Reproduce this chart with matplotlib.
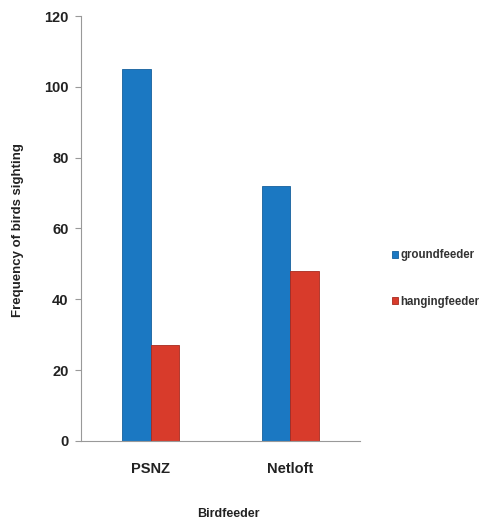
import matplotlib
matplotlib.use("Agg")
import matplotlib.pyplot as plt
import numpy as np

feeders = ["PSNZ", "Netloft"]
ground_feeder = [105, 72]
hanging_feeder = [27, 48]
series_labels = ["groundfeeder", "hangingfeeder"]
yticks = [0, 20, 40, 60, 80, 100, 120]

plt.rcParams["font.family"] = ["Liberation Sans", "DejaVu Sans"]

fig = plt.figure(figsize=(4.86, 5.23), dpi=100)
ax = fig.add_axes([0.1667, 0.1568, 0.5743, 0.8126])

x = np.arange(len(feeders))
width = 0.205
ax.bar(x - width / 2, ground_feeder, width, color="#1b78c2", edgecolor="#15609c",
       linewidth=0.6, label=series_labels[0])
ax.bar(x + width / 2, hanging_feeder, width, color="#d83b2b", edgecolor="#a82a1e",
       linewidth=0.6, label=series_labels[1])

ax.set_xlim(-0.5, 1.5)
ax.set_ylim(0, 120)
ax.set_yticks(yticks)
ax.set_yticklabels([str(v) for v in yticks], fontsize=10.5, fontweight="bold",
                   color="#222222")
ax.set_xticks(x)
ax.set_xticklabels(feeders, fontsize=10.5, fontweight="bold", color="#222222")
ax.tick_params(axis="x", length=0, pad=15)
ax.tick_params(axis="y", length=4, width=0.8, color="#999999", pad=5)

for side in ("top", "right"):
    ax.spines[side].set_visible(False)
for side in ("left", "bottom"):
    ax.spines[side].set_color("#999999")
    ax.spines[side].set_linewidth(0.8)

fig.text(0.038, 0.56, "Frequency of birds sighting", rotation=90, ha="center",
         va="center", fontsize=9.5, fontweight="bold", color="#222222")
fig.text(0.47, 0.017, "Birdfeeder", ha="center", va="center", fontsize=9,
         fontweight="bold", color="#222222")

ax.legend(loc="center left", bbox_to_anchor=(0.785, 0.467), bbox_transform=fig.transFigure,
          frameon=False, handlelength=0.55, handleheight=0.55, handletextpad=0.2,
          labelspacing=3.0, prop={"size": 8.3, "weight": "bold"}, labelcolor="#333333")

fig.savefig("out.png", dpi=100)
